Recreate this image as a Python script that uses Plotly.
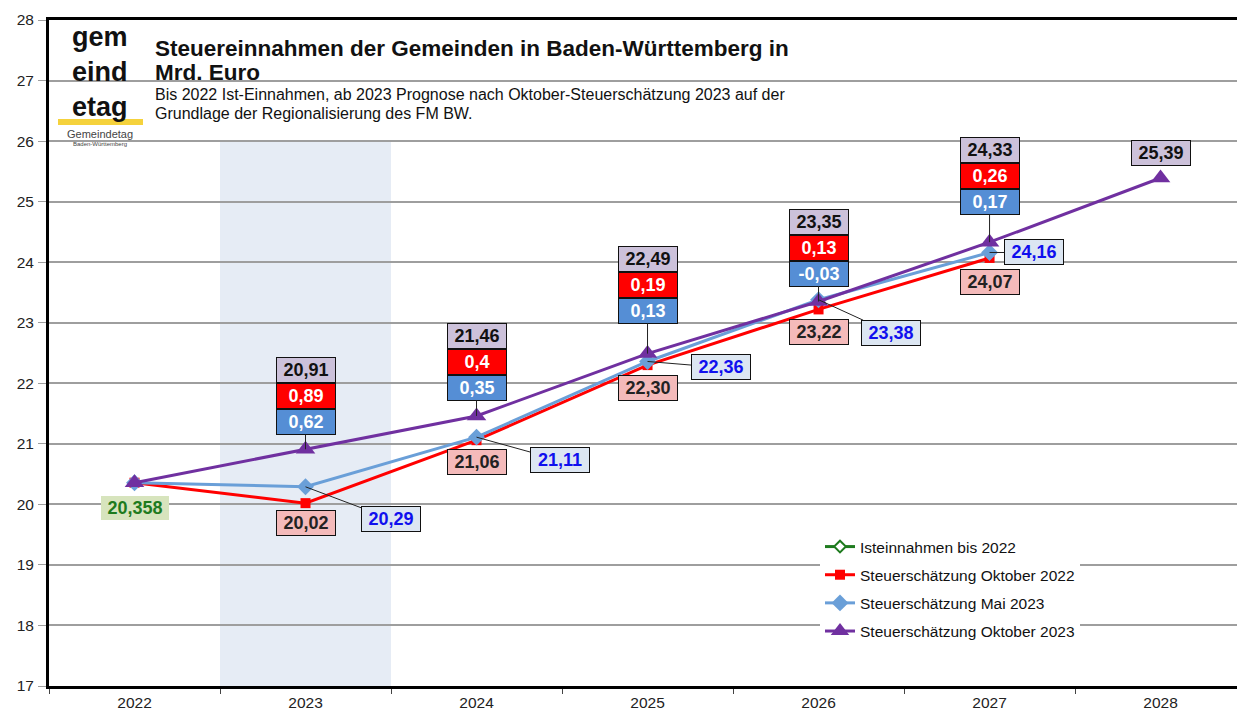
import plotly.graph_objects as go

# ---------------- data ----------------
years = ["2022", "2023", "2024", "2025", "2026", "2027", "2028"]
ist_years = ["2022"]
ist_values = [20.358]
okt2022_values = [20.358, 20.02, 21.06, 22.30, 23.22, 24.07]
mai2023_values = [20.358, 20.29, 21.11, 22.36, 23.38, 24.16]
okt2023_values = [20.358, 20.91, 21.46, 22.49, 23.35, 24.33, 25.39]
# differences Okt 2023 vs. Okt 2022 / Mai 2023 (2023..2027)
diff_okt2022 = [0.89, 0.4, 0.19, 0.13, 0.26]
diff_mai2023 = [0.62, 0.35, 0.13, -0.03, 0.17]
y_ticks = list(range(17, 29))

series_names = ["Isteinnahmen bis 2022", "Steuerschätzung Oktober 2022",
                "Steuerschätzung Mai 2023", "Steuerschätzung Oktober 2023"]

# ---------------- label layout (pixel offsets) ----------------
stack_off = [27, 28, 43, 28, 40]      # blue diff box centre above purple point
red_below = [20, 22, 23, 23, 24]      # red value label below red point
blue_dx = [85, 83, 73, 72, 44]
blue_dy = [32, 23, 6, 33, 0]

GREEN = "#1e7b1e"
RED = "#ff0000"
BLUE = "#6a9fd8"
PURPLE = "#7030a0"
FONT = "Arial, Liberation Sans, sans-serif"

def fmt2(v):
    return f"{v:.2f}".replace(".", ",")

def fmtg(v):
    return ("%g" % v).replace(".", ",")

fig = go.Figure()

fig.add_trace(go.Scatter(x=ist_years, y=ist_values, name=series_names[0], mode="lines+markers",
                         line=dict(color=GREEN, width=3),
                         marker=dict(symbol="diamond", size=9, color="white",
                                     line=dict(color=GREEN, width=2)),
                         legendgroup="a"))
fig.add_trace(go.Scatter(x=years[:len(okt2022_values)], y=okt2022_values, name=series_names[1],
                         mode="lines+markers", line=dict(color=RED, width=3),
                         marker=dict(symbol="square", size=10, color=RED), legendgroup="b"))
fig.add_trace(go.Scatter(x=years[:len(mai2023_values)], y=mai2023_values, name=series_names[2],
                         mode="lines+markers", line=dict(color=BLUE, width=3),
                         marker=dict(symbol="diamond", size=13, color=BLUE), legendgroup="c"))
fig.add_trace(go.Scatter(x=years, y=okt2023_values, name=series_names[3],
                         mode="lines+markers", line=dict(color=PURPLE, width=3),
                         marker=dict(symbol="triangle-up", size=17, color=PURPLE), legendgroup="d"))

ann = []
BOXW = 58
BOXH = 24

def box(i, y, text, bg, fc, **kw):
    # i = category index on the x axis
    d = dict(x=i, y=y, xref="x", yref="y", text=f"<b>{text}</b>", bgcolor=bg,
             bordercolor="#111111", borderwidth=1, borderpad=0, width=BOXW, height=BOXH,
             font=dict(family=FONT, size=18, color=fc), showarrow=False)
    d.update(kw)
    return d

# green actual value
ann.append(box(0, ist_values[0], fmtg(ist_values[0]), "#d7e4bd", GREEN,
               yshift=-25, width=68, borderwidth=0))

for i in range(1, 6):
    pv = okt2023_values[i]
    off = stack_off[i - 1]
    # blue diff box with leader line to purple point
    ann.append(box(i, pv, fmtg(diff_mai2023[i - 1]), "#558ed5", "white",
                   showarrow=True, ax=0, ay=-off, arrowhead=0, arrowwidth=1,
                   arrowcolor="#222222", standoff=0))
    ann.append(box(i, pv, fmtg(diff_okt2022[i - 1]), RED, "white", yshift=off + 26))
    ann.append(box(i, pv, fmt2(pv), "#ccc1da", "#111111", yshift=off + 52))
    # red value label below
    ann.append(box(i, okt2022_values[i], fmt2(okt2022_values[i]), "#f4baba", "#222222",
                   yshift=-red_below[i - 1]))
    # blue value label with leader line
    ann.append(box(i, mai2023_values[i], fmt2(mai2023_values[i]), "#dce6f2", "#1010ee",
                   showarrow=True, ax=blue_dx[i - 1], ay=blue_dy[i - 1], arrowhead=0,
                   arrowwidth=1, arrowcolor="#222222", standoff=0))

# 2028
ann.append(box(6, okt2023_values[6], fmt2(okt2023_values[6]), "#ccc1da", "#111111",
               yshift=25))

# ---------------- title block ----------------
def px_x(px):
    return (px - 49) / 1188.0

def px_y(py):
    return (686 - py) / 666.0

title_lines = [
    ("<b>Steuereinnahmen der Gemeinden in Baden-Württemberg in</b>", 48, 22.5),
    ("<b>Mrd. Euro</b>", 72, 22.5),
    ("Bis 2022 Ist-Einnahmen, ab 2023 Prognose nach Oktober-Steuerschätzung 2023 auf der", 94, 16),
    ("Grundlage der Regionalisierung des FM BW.", 113, 16),
]
for t, py, fs in title_lines:
    ann.append(dict(xref="paper", yref="paper", x=px_x(153), y=px_y(py), text=t,
                    xanchor="left", yanchor="middle", showarrow=False,
                    font=dict(family=FONT, size=fs, color="#111111")))

# logo (approximation as text)
ann.append(dict(xref="paper", yref="paper", x=px_x(100), y=px_y(72),
                text="<b>gem<br>eind<br>etag</b>", xanchor="center", yanchor="middle",
                showarrow=False, font=dict(family=FONT, size=27, color="#111111")))
ann.append(dict(xref="paper", yref="paper", x=px_x(100), y=px_y(134), text="Gemeindetag",
                xanchor="center", yanchor="middle", showarrow=False,
                font=dict(family=FONT, size=11, color="#444444")))
ann.append(dict(xref="paper", yref="paper", x=px_x(100), y=px_y(144), text="Baden-Württemberg",
                xanchor="center", yanchor="middle", showarrow=False,
                font=dict(family=FONT, size=6, color="#444444")))

shapes = [
    # forecast band 2023
    dict(type="rect", xref="x", yref="y", x0=0.5, x1=1.5, y0=17, y1=26,
         fillcolor="#e6ecf5", line=dict(width=0), layer="below"),
    # white boxes behind title and logo
    dict(type="rect", xref="paper", yref="paper", x0=px_x(152), x1=px_x(830),
         y0=px_y(150), y1=px_y(23), fillcolor="white", line=dict(width=0), layer="between"),
    dict(type="rect", xref="paper", yref="paper", x0=px_x(52), x1=px_x(143),
         y0=px_y(150), y1=px_y(23), fillcolor="white", line=dict(width=0), layer="between"),
    # yellow logo bar
    dict(type="rect", xref="paper", yref="paper", x0=px_x(58), x1=px_x(143),
         y0=px_y(125), y1=px_y(119), fillcolor="#f5d23c", line=dict(width=0), layer="above"),
]

fig.update_layout(
    width=1237, height=713,
    margin=dict(l=49, r=0, t=20, b=27),
    paper_bgcolor="white", plot_bgcolor="white",
    font=dict(family=FONT, color="#222222"),
    showlegend=True,
    legend=dict(x=px_x(820), y=px_y(530), xanchor="left", yanchor="top",
                bgcolor="white", font=dict(family=FONT, size=15.5, color="#111111"),
                tracegroupgap=5, itemwidth=30),
    annotations=ann,
    shapes=shapes,
    hovermode=False,
)
fig.update_xaxes(type="category", categoryorder="array", categoryarray=years,
                 range=[-0.5, 6.447], showgrid=False, showline=True, linecolor="black",
                 linewidth=3, mirror=True, ticks="outside", tickson="boundaries",
                 ticklen=5, tickcolor="#444444", tickfont=dict(size=15.5, color="#222222"),
                 zeroline=False)
fig.update_yaxes(range=[17, 28], tickvals=y_ticks, showgrid=True, gridcolor="#9e9e9e",
                 gridwidth=1.5, showline=True, linecolor="black", linewidth=3,
                 ticks="outside", ticklen=8, tickcolor="#9e9e9e", ticklabelstandoff=1,
                 tickfont=dict(size=15.5, color="#222222"), zeroline=False)

fig.write_html("out.html", config={"displayModeBar": False},
               post_script="document.body.style.margin='0';")
